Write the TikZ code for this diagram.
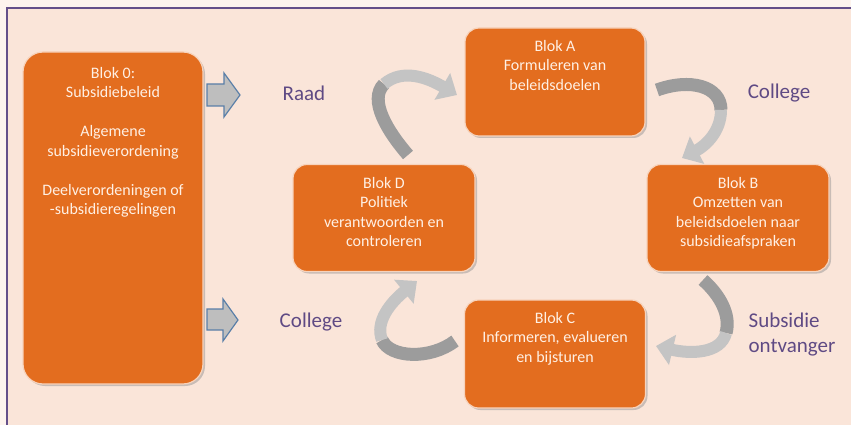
\documentclass[tikz,border=0pt]{standalone}
\usepackage{fontspec}
\setmainfont{Carlito}
\usetikzlibrary{arrows.meta,shadows}
\definecolor{outerbg}{HTML}{FDF4EE}
\definecolor{innerbg}{HTML}{FAE5D9}
\definecolor{framec}{HTML}{64508A}
\definecolor{boxorange}{HTML}{E36D1F}
\definecolor{boxtext}{HTML}{FFF0E4}
\definecolor{labelc}{HTML}{5F4A84}
\definecolor{arrdark}{HTML}{9C9C9C}
\definecolor{arrlight}{HTML}{C4C4C4}
\definecolor{blockfill}{HTML}{BEBEBE}
\definecolor{blockline}{HTML}{5A7FA8}
\tikzset{
  blok/.style={draw=white!70!boxorange, line width=1.2pt, fill=boxorange, rounded corners=14pt,
    drop shadow={shadow xshift=2pt, shadow yshift=-2pt, fill=black!45, opacity=0.45}},
  bloktext/.style={anchor=north, inner sep=0pt, align=center, text=boxtext,
    font=\fontsize{16}{19.5}\selectfont},
  lbl/.style={text=labelc, inner sep=0pt, font=\fontsize{21}{25}\selectfont},
  darkband/.style={draw=arrdark, line width=13pt},
  lightband/.style={draw=arrlight, line width=12pt, -{Triangle[length=17pt,width=30pt]}},
  blockarrow/.style={fill=blockfill, draw=blockline, line width=1.2pt, line join=miter},
}
\begin{document}
\begin{tikzpicture}[x=1pt,y=-1pt]
\useasboundingbox (0,0) rectangle (851,425);
\fill[outerbg] (0,0) rectangle (851,425);
\draw[framec, line width=2pt, fill=innerbg] (7,8) rectangle (870,440);

% boxes
\node[blok, rounded corners=20pt, minimum width=180pt, minimum height=332pt] (b0) at (113,218) {};
\node[blok, minimum width=180pt, minimum height=108pt] (bA) at (555,82) {};
\node[blok, minimum width=182pt, minimum height=107pt] (bD) at (384,218) {};
\node[blok, minimum width=182pt, minimum height=107pt] (bB) at (738,218) {};
\node[blok, minimum width=181pt, minimum height=108pt] (bC) at (555,354) {};

% texts
\node[bloktext] (t0) at (113,67) {Blok 0:\\Subsidiebeleid\\[19.5pt]Algemene\\subsidieverordening\\[19.5pt]Deelverordeningen of\\-subsidieregelingen};
\node[bloktext] (tA) at (555,40) {Blok A\\Formuleren van\\beleidsdoelen};
\node[bloktext] (tD) at (384,177) {Blok D\\Politiek\\verantwoorden en\\controleren};
\node[bloktext] (tB) at (738,177) {Blok B\\Omzetten van\\beleidsdoelen naar\\subsidieafspraken};
\node[bloktext] (tC) at (555,312) {Blok C\\Informeren, evalueren\\en bijsturen};

% labels
\node[lbl] (raad) at (304,93) {Raad};
\node[lbl] (colL) at (311,322) {College};
\node[lbl] (colR) at (779,93) {College};
\node[lbl, align=left] (subs) at (792,335) {Subsidie\\ontvanger};

% straight block arrows
\draw[blockarrow] (207,84) -- (224,84) -- (224,73) -- (240,95) -- (224,117) -- (224,106) -- (207,106) -- cycle;
\draw[blockarrow] (207,309) -- (223,309) -- (223,299) -- (238,320) -- (223,341) -- (223,330) -- (207,330) -- cycle;

% curved arrows
\coordinate (dA1) at (408,155);
\coordinate (dA2) at (384,84);
\coordinate (dA3) at (457,95);
\draw[darkband] (dA1) .. controls (388,132) and (368,100) .. (dA2);
\draw[lightband] (dA2) .. controls (403,68) and (428,78) .. (dA3);

\coordinate (aB1) at (657,90);
\coordinate (aB2) at (721,110);
\coordinate (aB3) at (682,158);
\draw[darkband] (aB1) .. controls (690,78) and (721,86) .. (aB2);
\draw[lightband] (aB2) .. controls (721,132) and (705,146) .. (aB3);

\coordinate (bC1) at (703,280);
\coordinate (bC2) at (726,333);
\coordinate (bC3) at (656,346);
\draw[darkband] (bC1) .. controls (720,295) and (731,315) .. (bC2);
\draw[lightband] (bC2) .. controls (721,354) and (690,354) .. (bC3);

\coordinate (cD1) at (455,341);
\coordinate (cD2) at (382,340);
\coordinate (cD3) at (417,281);
\draw[darkband] (cD1) .. controls (430,360) and (390,358) .. (cD2);
\draw[lightband] (cD2) .. controls (375,322) and (390,303) .. (cD3);
\end{tikzpicture}
\end{document}
